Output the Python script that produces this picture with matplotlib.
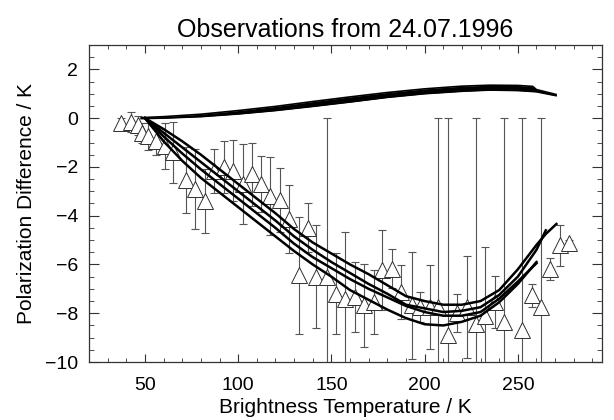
import matplotlib
matplotlib.use('Agg')
import matplotlib.pyplot as plt
from matplotlib.ticker import MultipleLocator

plt.rcParams['font.family'] = ['Liberation Sans', 'DejaVu Sans']

# observations: brightness temperature, polarization difference, error
obs_tb = [37.0, 42.5, 46.4, 48.5, 51.8, 55.9, 60.7, 65.2, 71.8, 76.8,
          82.2, 87.0, 92.4, 97.3, 102.4, 107.2, 112.0, 117.0, 122.4, 127.2,
          132.7, 137.6, 142.0, 147.4, 152.4, 157.2, 162.6, 167.4, 172.8, 177.4,
          182.3, 187.6, 193.0, 197.5, 202.8, 207.3, 212.6, 217.5, 222.5, 227.5,
          232.5, 237.7, 242.5, 252.5, 257.5, 262.5, 267.5, 272.5, 277.5]
obs_dp = [-0.20, -0.15, -0.30, -0.60, -0.75, -0.95, -1.15, -1.40, -2.55, -2.90,
          -3.39, -2.16, -2.00, -2.16, -2.70, -2.30, -2.70, -3.20, -3.35, -4.14,
          -6.45, -4.50, -6.50, -6.50, -7.20, -7.40, -7.33, -7.67, -7.54, -6.24,
          -6.18, -7.13, -7.67, -7.74, -7.74, -7.74, -8.90, -8.00, -7.74, -8.45,
          -8.10, -7.54, -8.35, -8.67, -7.27, -7.74, -6.18, -5.22, -5.13]
obs_err = [0.20, 0.40, 0.40, 0.40, 0.55, 0.55, 0.95, 1.25, 1.35, 1.65,
           1.30, 0.90, 1.05, 1.25, 1.65, 1.30, 1.15, 1.60, 1.30, 1.40,
           2.40, 1.00, 2.10, 6.50, 1.65, 2.75, 1.45, 1.70, 1.30, 1.64,
           0.80, 1.10, 2.20, 0.60, 1.73, 7.74, 8.90, 0.78, 2.10, 8.45,
           2.80, 1.05, 8.35, 8.67, 0.47, 7.74, 0.45, 0.85, 0.15]
dotted_obs = [7, 12, 24, 29, 34, 45]

# model curves (negative branch)
model_tb = [50, 60, 70, 80, 90, 100, 110, 120, 130, 140, 150, 160, 170,
            180, 190, 200, 210, 220, 230, 240, 250, 260, 265, 270.7]
model_a = [0, -0.45, -0.95, -1.5, -2.1, -2.7, -3.3, -3.9, -4.55, -5.1, -5.55, -6.0, -6.4,
           -6.85, -7.3, -7.5, -7.65, -7.65, -7.5, -7.05, -6.2, -5.2, -4.75, -4.34]
model_b = [0, -0.6, -1.2, -1.8, -2.4, -3.0, -3.6, -4.2, -4.85, -5.4, -5.9, -6.35, -6.8,
           -7.2, -7.65, -7.8, -7.95, -7.9, -7.75, -7.25, -6.5, -5.4, -4.6]
model_c = [0, -0.75, -1.45, -2.1, -2.7, -3.3, -3.9, -4.5, -5.15, -5.7, -6.15, -6.6, -7.0,
           -7.35, -7.7, -7.95, -8.1, -8.1, -7.95, -7.4, -6.7, -5.95]
model_d = [0, -0.95, -1.75, -2.45, -3.05, -3.65, -4.25, -4.85, -5.45, -6.0, -6.5, -7.05, -7.45,
           -7.85, -8.2, -8.45, -8.5, -8.35, -8.1, -7.55, -6.8, -5.9]

# model band (positive branch)
band_tb = [48, 60, 80, 100, 120, 140, 160, 180, 200, 220, 235, 250, 258, 260, 270.5]
band_hi = [0.02, 0.06, 0.16, 0.31, 0.48, 0.68, 0.87, 1.05, 1.2, 1.31, 1.35, 1.34, 1.3, 1.17, 0.97]
band_lo = [-0.02, 0.0, 0.06, 0.17, 0.31, 0.48, 0.66, 0.85, 1.0, 1.1, 1.15, 1.13, 1.09, 1.08, 0.92]

fig = plt.figure(figsize=(6.14, 4.2), dpi=100)
ax = fig.add_axes([0.145, 0.138, 0.835, 0.755])

# error bars
for i, (t, d, e) in enumerate(zip(obs_tb, obs_dp, obs_err)):
    ls = ':' if i in dotted_obs else '-'
    ax.errorbar(t, d, yerr=e, fmt='none', ecolor='#555555', elinewidth=0.8,
                capsize=3, capthick=0.8, linestyle=ls)
ax.plot(obs_tb, obs_dp, '^', ls='none', ms=11, mfc='white', mec='#303030', mew=0.7,
        zorder=3)

# band
ax.fill_between(band_tb, band_lo, band_hi, color='black', lw=0, zorder=4)
ax.plot(band_tb, band_hi, c='black', lw=1.2, zorder=4)
ax.plot(band_tb, band_lo, c='black', lw=1.2, zorder=4)

# four model curves
for ys in [model_a, model_b, model_c, model_d]:
    ax.plot(model_tb[:len(ys)], ys, c='black', lw=1.8, zorder=5,
            solid_joinstyle='round')

ax.set_xlim(20, 295)
ax.set_ylim(-10, 3)
ax.xaxis.set_major_locator(MultipleLocator(50))
ax.xaxis.set_minor_locator(MultipleLocator(10))
ax.yaxis.set_major_locator(MultipleLocator(2))
ax.yaxis.set_minor_locator(MultipleLocator(0.5))
ax.tick_params(axis='both', which='both', direction='in', top=True, right=True,
               labelsize=14, color='#333333')
ax.tick_params(axis='x', which='major', length=5.5, pad=11)
ax.tick_params(axis='x', which='minor', length=3)
ax.tick_params(axis='y', which='major', length=7.5, pad=8)
ax.tick_params(axis='y', which='minor', length=3.8)
ax.xaxis.set_major_formatter(plt.FuncFormatter(lambda v, p: '' if v < 50 or v > 250 else f'{v:.0f}'))
for s in ax.spines.values():
    s.set_color('#333333')
    s.set_linewidth(0.9)

ax.set_xlabel('Brightness Temperature / K', fontsize=15, labelpad=3)
ax.set_ylabel('Polarization Difference / K', fontsize=15, labelpad=6)
ax.set_title('Observations from 24.07.1996', fontsize=18, pad=6)

plt.savefig('out.png', dpi=100)
